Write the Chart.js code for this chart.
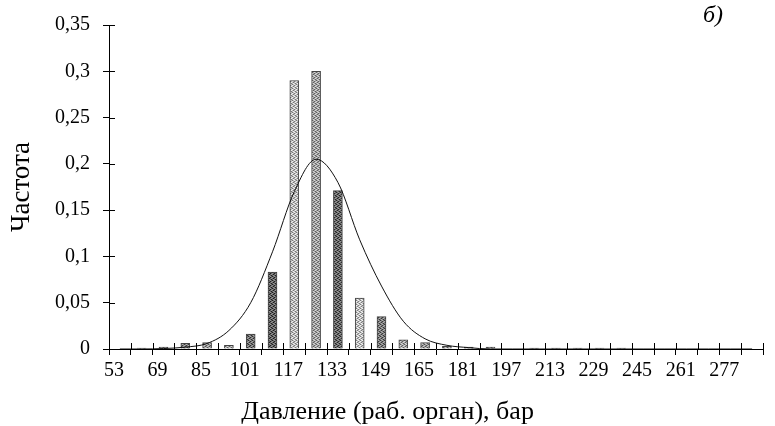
<!DOCTYPE html>
<html>
<head>
<meta charset="utf-8">
<script src="https://cdn.jsdelivr.net/npm/chart.js@4.4.1/dist/chart.umd.min.js"></script>
<style>
  html, body { margin: 0; padding: 0; background: #fff; }
  #wrap { width: 775px; height: 426px; }
</style>
</head>
<body>
<div id="wrap"><canvas id="histChart"></canvas></div>
<script>
// bins: lower bound of each 8-bar interval
const binStarts = [53, 61, 69, 77, 85, 93, 101, 109, 117, 125, 133, 141, 149, 157, 165,
                   173, 181, 189, 197, 205, 213, 221, 229, 237, 245, 253, 261, 269, 277, 285];
// observed relative frequency per bin
const freq = [0, 0.001, 0.002, 0.006, 0.007, 0.004, 0.016, 0.083, 0.29, 0.3, 0.171, 0.055, 0.035, 0.01, 0.007,
              0.003, 0.002, 0.002, 0, 0.001, 0.001, 0.001, 0.001, 0.001, 0, 0, 0, 0, 0, 0];
// fitted normal density, read per bin
const fitted = [0, 0, 0.0005, 0.002, 0.006, 0.02, 0.05, 0.105, 0.17, 0.205, 0.18, 0.118, 0.068, 0.03, 0.011,
                0.004, 0.0015, 0, 0, 0, 0, 0, 0, 0, 0, 0, 0, 0, 0, 0];
const yTicks = [0, 0.05, 0.1, 0.15, 0.2, 0.25, 0.3, 0.35];
const xTitle = 'Давление (раб. орган), бар';

// grey tones for the bars (printed, stippled look)
const barShades = [150, 150, 150, 130, 150, 165, 115, 100, 190, 165, 105, 195, 125, 165, 150];

const serif = '"Liberation Serif", "DejaVu Serif", serif';

// small dither tile so the bars look like a printed grey fill
const patternCache = {};
function stipple(g) {
  if (patternCache[g]) return patternCache[g];
  const c = document.createElement('canvas');
  c.width = 4; c.height = 4;
  const t = c.getContext('2d');
  const tone = v => `rgb(${v},${v},${v})`;
  t.fillStyle = tone(g);
  t.fillRect(0, 0, 4, 4);
  t.fillStyle = tone(Math.max(0, g - 70));
  [[0, 0], [2, 1], [1, 2], [3, 3]].forEach(([x, y]) => t.fillRect(x, y, 1, 1));
  t.fillStyle = tone(Math.min(255, g + 50));
  [[2, 0], [0, 1], [3, 2], [1, 3]].forEach(([x, y]) => t.fillRect(x, y, 1, 1));
  patternCache[g] = t.createPattern(c, 'repeat');
  return patternCache[g];
}

// short tick marks crossing into the plot area
const innerTicks = {
  id: 'innerTicks',
  afterDatasetsDraw(chart) {
    const {ctx, scales: {x, y}} = chart;
    ctx.save();
    ctx.strokeStyle = '#000';
    ctx.lineWidth = 1;
    ctx.beginPath();
    yTicks.forEach(v => {
      const py = Math.round(y.getPixelForValue(v)) + 0.5;
      ctx.moveTo(x.left, py);
      ctx.lineTo(x.left + 6, py);
    });
    const step = (x.right - x.left) / binStarts.length;
    for (let i = 0; i <= binStarts.length; i++) {
      const px = Math.round(x.left + i * step) + 0.5;
      ctx.moveTo(px, y.bottom);
      ctx.lineTo(px, y.bottom - 6);
    }
    ctx.stroke();
    ctx.restore();
  }
};

// x axis caption (sits left of centre) and the panel letter
const captions = {
  id: 'captions',
  afterDraw(chart) {
    const {ctx, chartArea, scales: {x}} = chart;
    ctx.save();
    ctx.fillStyle = '#000';
    ctx.textAlign = 'center';
    ctx.textBaseline = 'middle';
    ctx.font = '26px ' + serif;
    ctx.fillText(xTitle, x.left + x.width * 0.426, x.bottom - 14);
    ctx.font = 'italic 24px ' + serif;
    ctx.fillText('б)', chartArea.right - 50, 16);
    ctx.restore();
  }
};

new Chart(document.getElementById('histChart'), {
  type: 'bar',
  data: {
    labels: binStarts.map(String),
    datasets: [{
      type: 'line',
      data: fitted,
      borderColor: '#111',
      borderWidth: 1,
      pointRadius: 0,
      cubicInterpolationMode: 'monotone',
      fill: false,
      order: 0
    }, {
      data: freq,
      backgroundColor: ctx => stipple(barShades[ctx.dataIndex] || 150),
      borderColor: '#444',
      borderWidth: 1,
      barThickness: 9,
      order: 1
    }]
  },
  plugins: [innerTicks, captions],
  options: {
    responsive: true,
    maintainAspectRatio: false,
    animation: false,
    layout: { padding: { top: 21, right: 12, left: 0, bottom: 0 } },
    plugins: { legend: { display: false }, tooltip: { enabled: false } },
    scales: {
      x: {
        afterFit: s => { s.height = 77; },
        grid: { offset: true, drawOnChartArea: false, tickLength: 6, color: '#000' },
        border: { color: '#000', width: 1 },
        ticks: {
          autoSkip: false,
          maxRotation: 0,
          labelOffset: -6,
          padding: 4,
          color: '#000',
          font: { family: serif, size: 20 },
          callback: (v, i) => (i % 2 ? '' : binStarts[i])
        }
      },
      y: {
        min: 0,
        max: 0.35,
        afterFit: s => { s.width = 109; },
        afterBuildTicks: s => { s.ticks = yTicks.map(v => ({ value: v })); },
        grid: { drawOnChartArea: false, tickLength: 6, color: '#000' },
        border: { color: '#000', width: 1 },
        ticks: {
          padding: 13,
          color: '#000',
          font: { family: serif, size: 20 },
          callback: v => String(Number(v.toFixed(2))).replace('.', ',')
        },
        title: {
          display: true,
          text: 'Частота',
          color: '#000',
          font: { family: serif, size: 27 },
          padding: { top: 6, bottom: 0 }
        }
      }
    }
  }
});
</script>
</body>
</html>
